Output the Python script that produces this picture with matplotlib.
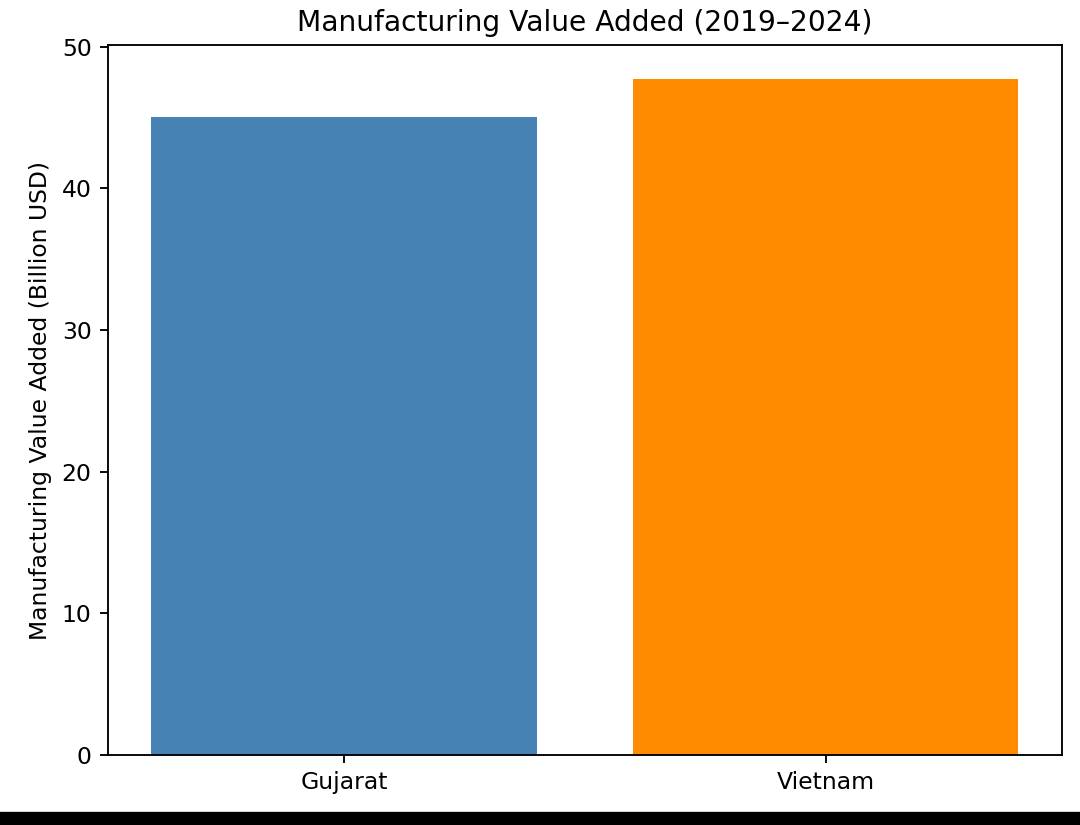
import matplotlib

matplotlib.use('Agg')
import matplotlib.pyplot as plt
from matplotlib.patches import Rectangle

regions = ['Gujarat', 'Vietnam']
values = [45.0, 47.7]
colors = ['steelblue', 'darkorange']

dpi = 169
fig = plt.figure(figsize=(1080 / dpi, 825 / dpi), dpi=dpi)
ax = fig.add_axes([0.1, 0.085, 0.883, 0.86])

ax.bar(regions, values, color=colors)
ax.set_ylabel('Manufacturing Value Added (Billion USD)')
ax.set_title('Manufacturing Value Added (2019–2024)')

# black strip at the bottom of the screenshot
fig.patches.append(Rectangle((0, 0), 1, 12 / 825, transform=fig.transFigure,
                             color='black', zorder=10))

fig.savefig('out.png', dpi=dpi)
